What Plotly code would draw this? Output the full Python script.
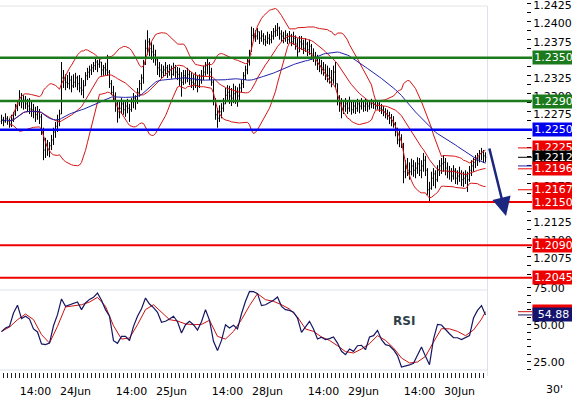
import numpy as np
import pandas as pd
import plotly.graph_objects as go

W, H = 572, 397

# ---------------- data (30-minute EUR bars) ----------------
HIGH = [
1.2271,1.2268,1.2273,1.2269,1.2266,1.2271,1.2275,1.2286,1.2291,1.2305,
1.2301,1.2298,1.2297,1.2293,1.2294,1.2290,1.2286,1.2282,1.2283,1.2279,
1.2272,1.2253,1.2239,1.2236,1.2233,1.2243,1.2253,1.2261,1.2271,1.2278,
1.2344,1.2333,1.2327,1.2326,1.2330,1.2325,1.2327,1.2329,1.2325,1.2326,
1.2322,1.2319,1.2330,1.2336,1.2339,1.2341,1.2344,1.2350,1.2347,1.2351,
1.2344,1.2340,1.2343,1.2354,1.2333,1.2319,1.2311,1.2302,1.2291,1.2289,
1.2294,1.2291,1.2289,1.2293,1.2286,1.2294,1.2301,1.2298,1.2308,1.2319,
1.2327,1.2347,1.2375,1.2388,1.2377,1.2372,1.2368,1.2361,1.2351,1.2344,
1.2341,1.2339,1.2344,1.2340,1.2341,1.2339,1.2343,1.2340,1.2337,1.2336,
1.2330,1.2333,1.2333,1.2336,1.2333,1.2330,1.2327,1.2330,1.2325,1.2327,
1.2333,1.2339,1.2344,1.2350,1.2344,1.2336,1.2319,1.2294,1.2280,1.2284,
1.2287,1.2294,1.2308,1.2312,1.2311,1.2308,1.2314,1.2311,1.2309,1.2314,
1.2319,1.2330,1.2339,1.2350,1.2361,1.2393,1.2391,1.2388,1.2391,1.2386,
1.2388,1.2384,1.2381,1.2386,1.2383,1.2387,1.2391,1.2395,1.2398,1.2393,
1.2388,1.2386,1.2388,1.2384,1.2387,1.2383,1.2386,1.2381,1.2377,1.2380,
1.2380,1.2375,1.2377,1.2372,1.2375,1.2369,1.2363,1.2358,1.2354,1.2350,
1.2347,1.2344,1.2341,1.2339,1.2336,1.2333,1.2339,1.2344,1.2314,1.2298,
1.2294,1.2291,1.2294,1.2291,1.2296,1.2290,1.2291,1.2289,1.2293,1.2290,
1.2294,1.2291,1.2293,1.2290,1.2291,1.2293,1.2291,1.2290,1.2291,1.2289,
1.2286,1.2283,1.2280,1.2278,1.2275,1.2272,1.2269,1.2261,1.2253,1.2250,
1.2244,1.2232,1.2208,1.2211,1.2205,1.2210,1.2208,1.2205,1.2212,1.2211,
1.2208,1.2218,1.2214,1.2197,1.2178,1.2192,1.2197,1.2194,1.2201,1.2208,
1.2211,1.2215,1.2211,1.2205,1.2200,1.2197,1.2201,1.2197,1.2194,1.2199,
1.2194,1.2192,1.2194,1.2192,1.2200,1.2208,1.2211,1.2215,1.2218,1.2222,
1.2225,1.2222,1.2219]

LOW = [
1.2258,1.2255,1.2260,1.2257,1.2253,1.2254,1.2261,1.2269,1.2276,1.2283,
1.2280,1.2278,1.2279,1.2275,1.2272,1.2268,1.2266,1.2261,1.2264,1.2258,
1.2243,1.2208,1.2211,1.2214,1.2212,1.2222,1.2229,1.2239,1.2247,1.2255,
1.2272,1.2308,1.2305,1.2308,1.2306,1.2302,1.2308,1.2309,1.2305,1.2302,
1.2298,1.2294,1.2311,1.2319,1.2322,1.2326,1.2330,1.2333,1.2330,1.2336,
1.2325,1.2325,1.2326,1.2325,1.2308,1.2298,1.2291,1.2275,1.2260,1.2266,
1.2272,1.2271,1.2268,1.2273,1.2261,1.2275,1.2280,1.2278,1.2286,1.2296,
1.2305,1.2314,1.2340,1.2354,1.2352,1.2347,1.2343,1.2339,1.2326,1.2323,
1.2322,1.2323,1.2325,1.2322,1.2325,1.2321,1.2325,1.2322,1.2319,1.2311,
1.2296,1.2312,1.2314,1.2316,1.2312,1.2308,1.2305,1.2308,1.2302,1.2308,
1.2314,1.2319,1.2325,1.2327,1.2319,1.2311,1.2284,1.2264,1.2253,1.2261,
1.2266,1.2275,1.2286,1.2289,1.2286,1.2283,1.2287,1.2286,1.2282,1.2289,
1.2302,1.2308,1.2319,1.2327,1.2339,1.2358,1.2375,1.2372,1.2375,1.2369,
1.2372,1.2368,1.2366,1.2369,1.2368,1.2370,1.2375,1.2379,1.2380,1.2375,
1.2372,1.2370,1.2372,1.2369,1.2370,1.2366,1.2368,1.2361,1.2351,1.2358,
1.2361,1.2355,1.2358,1.2352,1.2354,1.2347,1.2344,1.2339,1.2333,1.2330,
1.2327,1.2325,1.2319,1.2316,1.2314,1.2309,1.2314,1.2308,1.2284,1.2275,
1.2266,1.2272,1.2275,1.2272,1.2275,1.2271,1.2273,1.2272,1.2275,1.2273,
1.2278,1.2275,1.2276,1.2275,1.2278,1.2280,1.2279,1.2278,1.2278,1.2275,
1.2272,1.2269,1.2266,1.2264,1.2258,1.2255,1.2253,1.2241,1.2230,1.2226,
1.2225,1.2176,1.2183,1.2186,1.2181,1.2187,1.2185,1.2183,1.2189,1.2186,
1.2183,1.2192,1.2186,1.2160,1.2150,1.2167,1.2172,1.2169,1.2178,1.2186,
1.2189,1.2192,1.2187,1.2183,1.2181,1.2178,1.2181,1.2175,1.2174,1.2178,
1.2172,1.2171,1.2175,1.2164,1.2178,1.2186,1.2192,1.2197,1.2200,1.2205,
1.2208,1.2204,1.2205]

CLOSE = [
1.2264,1.2261,1.2266,1.2262,1.2258,1.2265,1.2272,1.2280,1.2286,1.2294,
1.2289,1.2291,1.2286,1.2283,1.2279,1.2278,1.2275,1.2271,1.2275,1.2268,
1.2247,1.2222,1.2229,1.2222,1.2228,1.2236,1.2247,1.2255,1.2264,1.2272,
1.2322,1.2319,1.2316,1.2314,1.2319,1.2311,1.2316,1.2322,1.2314,1.2308,
1.2305,1.2311,1.2325,1.2330,1.2333,1.2336,1.2339,1.2344,1.2341,1.2344,
1.2333,1.2336,1.2333,1.2330,1.2314,1.2302,1.2297,1.2283,1.2275,1.2280,
1.2286,1.2278,1.2283,1.2280,1.2278,1.2289,1.2294,1.2291,1.2302,1.2314,
1.2322,1.2341,1.2363,1.2372,1.2363,1.2358,1.2354,1.2347,1.2336,1.2333,
1.2330,1.2333,1.2336,1.2330,1.2333,1.2327,1.2336,1.2330,1.2327,1.2319,
1.2316,1.2325,1.2322,1.2327,1.2319,1.2316,1.2314,1.2319,1.2311,1.2319,
1.2325,1.2330,1.2339,1.2341,1.2330,1.2316,1.2291,1.2271,1.2266,1.2275,
1.2280,1.2286,1.2298,1.2302,1.2297,1.2294,1.2300,1.2302,1.2297,1.2308,
1.2314,1.2325,1.2333,1.2344,1.2355,1.2381,1.2383,1.2380,1.2386,1.2377,
1.2380,1.2375,1.2372,1.2377,1.2375,1.2380,1.2386,1.2388,1.2391,1.2383,
1.2380,1.2377,1.2381,1.2375,1.2380,1.2372,1.2377,1.2369,1.2358,1.2372,
1.2369,1.2363,1.2369,1.2361,1.2366,1.2355,1.2352,1.2347,1.2341,1.2339,
1.2336,1.2333,1.2327,1.2325,1.2322,1.2319,1.2330,1.2314,1.2291,1.2283,
1.2278,1.2283,1.2286,1.2280,1.2289,1.2278,1.2283,1.2280,1.2286,1.2283,
1.2289,1.2283,1.2286,1.2283,1.2286,1.2289,1.2286,1.2283,1.2286,1.2280,
1.2278,1.2275,1.2272,1.2269,1.2266,1.2261,1.2258,1.2247,1.2236,1.2239,
1.2230,1.2192,1.2197,1.2194,1.2192,1.2200,1.2194,1.2197,1.2203,1.2194,
1.2200,1.2208,1.2194,1.2167,1.2169,1.2183,1.2189,1.2181,1.2194,1.2200,
1.2203,1.2205,1.2197,1.2192,1.2192,1.2186,1.2194,1.2183,1.2186,1.2189,
1.2181,1.2183,1.2186,1.2181,1.2194,1.2200,1.2205,1.2208,1.2211,1.2217,
1.2219,1.2214,1.2212]

FIRST_OPEN = 1.2262

BB_PERIOD, BB_K, MA_PERIOD = 20, 2, 50

# RSI read every 2 bars, its signal line every 4 bars (last point = final bar)
RSI_VALUES = [
45.3,47.8,48.9,57.9,63.2,54.1,55.7,53.8,47.1,45.1,
37.0,36.5,37.6,49.3,56.8,67.4,62.4,63.5,64.4,65.3,
60.2,64.7,67.1,68.5,71.4,66.5,60.2,55.7,39.2,37.4,
42.1,42.1,39.2,48.9,55.7,60.8,68.0,64.0,61.5,58.4,
51.6,52.3,53.8,55.7,52.0,44.4,50.0,52.3,50.0,46.4,
52.0,60.2,53.0,38.8,32.5,39.4,50.0,47.8,49.6,47.1,
57.4,65.8,72.5,72.3,71.0,62.9,63.5,65.1,66.5,68.7,
62.4,60.2,59.7,58.4,54.5,44.8,48.9,52.3,47.1,40.3,
41.5,39.9,40.6,41.7,37.6,32.0,29.8,33.6,32.0,35.8,
36.1,33.1,41.7,42.6,46.2,39.9,36.5,35.8,33.1,29.1,
21.4,21.9,22.8,23.9,30.0,34.9,28.6,23.0,40.3,50.2,
49.8,46.6,43.9,41.2,41.2,39.9,41.0,42.6,54.5,59.7,
62.9,56.6]

RSI_SIGNAL = [
45.5,48.4,53.4,57.2,53.4,43.3,37.6,48.9,62.0,62.9,
63.5,65.3,68.5,62.4,49.3,40.3,41.0,50.0,60.2,63.5,
58.4,53.4,52.5,50.5,50.0,50.2,53.0,42.1,40.3,45.5,
53.4,62.9,71.0,66.9,65.8,63.5,60.6,55.2,47.1,45.5,
41.7,39.4,35.8,31.8,30.9,33.6,37.2,42.6,39.4,34.3,
27.5,24.1,24.8,28.6,38.3,47.3,47.2,45.5,42.6,46.4,
53.8,58.8]

# time labels on the bar index axis (bar 17 = 23Jun 14:00, one bar = 30 minutes)
TICK_POS = [17, 37, 65, 85, 113, 133, 161, 181, 209, 229]
TICK_TEXT = ["14:00", "24Jun", "14:00", "25Jun", "14:00", "28Jun",
             "14:00", "29Jun", "14:00", "30Jun"]
RSI_TICKS = [25, 50, 75]

LEVELS = [1.2350, 1.2290, 1.2250, 1.2150, 1.2090, 1.2045]
LEVEL_KIND = ["res", "res", "pivot", "sup", "sup", "sup"]

LAST_UPPER, LAST_CLOSE, LAST_MID, LAST_LOWER, LAST_MA = 1.2225, 1.2212, 1.2196, 1.2167, 1.2200
RSI_LABEL = "54.88"

# ---------------- styles ----------------
GREEN, BLUE, RED = "#1b7a1b", "#0000ee", "#ee0000"
KIND_COLOR = {"res": GREEN, "pivot": BLUE, "sup": RED}
FONT = "DejaVu Sans"
GRID = "#dde2ea"

def px(x):
    return x / W

def py(y):
    return 1 - y / H

n = len(CLOSE)
idx = np.arange(n)
close_s = pd.Series(CLOSE)
open_ = [FIRST_OPEN] + CLOSE[:-1]
mid = close_s.rolling(BB_PERIOD, min_periods=5).mean()
sd = close_s.rolling(BB_PERIOD, min_periods=5).std(ddof=0)
upper = mid + BB_K * sd
lower = mid - BB_K * sd
ma = close_s.rolling(MA_PERIOD, min_periods=1).mean()

rsi_x = list(range(0, n, 2))
sig_x = list(range(0, n - 2, 4)) + [n - 1]

hour_ticks = list(range(1, n, 2))   # one tick mark per hour (every 2 bars)
rsi_tickvals = list(range(20, 76, 5))
rsi_ticktext = [f"{v:.2f}" if v in RSI_TICKS else "" for v in rsi_tickvals]

P_BOT, P_TOP = 1.20378, 1.24258
X_RANGE = [-0.75, 243.0]

fig = go.Figure()
for s in (upper, mid, lower):
    fig.add_trace(go.Scatter(x=idx, y=s, mode="lines", line=dict(color="#d41414", width=1),
                             hoverinfo="skip", xaxis="x", yaxis="y"))
fig.add_trace(go.Scatter(x=idx, y=ma, mode="lines", line=dict(color="#2020a8", width=1),
                         hoverinfo="skip", xaxis="x", yaxis="y"))
fig.add_trace(go.Ohlc(x=idx, open=open_, high=HIGH, low=LOW, close=CLOSE,
                      increasing=dict(line=dict(color="black", width=1)),
                      decreasing=dict(line=dict(color="black", width=1)),
                      tickwidth=0.4, xaxis="x", yaxis="y"))
fig.add_trace(go.Scatter(x=sig_x, y=RSI_SIGNAL, mode="lines", line=dict(color="#cc1111", width=1),
                         xaxis="x2", yaxis="y2"))
fig.add_trace(go.Scatter(x=rsi_x, y=RSI_VALUES, mode="lines", line=dict(color="#151560", width=1.2),
                         xaxis="x2", yaxis="y2"))

shapes = []
# frame lines
shapes.append(dict(type="line", xref="paper", yref="paper", x0=0, x1=px(487.5), y0=py(6), y1=py(6),
                   line=dict(color="#e4e4e4", width=1)))
for yy in (290, 370):
    shapes.append(dict(type="line", xref="paper", yref="paper", x0=0, x1=px(487.5), y0=py(yy), y1=py(yy),
                       line=dict(color=GRID, width=1)))
shapes.append(dict(type="line", xref="paper", yref="paper", x0=px(487.5), x1=px(487.5), y0=py(376), y1=py(6),
                   line=dict(color=GRID, width=1)))
# hourly tick marks under the RSI panel
for t in hour_ticks:
    shapes.append(dict(type="line", xref="x2", yref="paper", x0=t, x1=t, y0=py(373), y1=py(378),
                       line=dict(color="#222222", width=1)))
# support / resistance lines
for lv, kind in zip(LEVELS, LEVEL_KIND):
    shapes.append(dict(type="line", xref="paper", yref="y", x0=0, x1=px(532), y0=lv, y1=lv,
                       line=dict(color=KIND_COLOR[kind], width=2.5 if kind != "sup" else 2)))
# stubs of last values
for val, col in ((LAST_UPPER, RED), (LAST_CLOSE, "black"), (LAST_MA, "#2020a8"),
                 (LAST_MID, RED), (LAST_LOWER, RED)):
    shapes.append(dict(type="line", xref="paper", yref="y", x0=px(518), x1=px(532), y0=val, y1=val,
                       line=dict(color=col, width=1)))
for val, col in ((RSI_SIGNAL[-1], "#cc1111"), (RSI_VALUES[-1], "#151560")):
    shapes.append(dict(type="line", xref="paper", yref="y2", x0=px(518), x1=px(532), y0=val, y1=val,
                       line=dict(color=col, width=1)))

annotations = []

def box(val, text, bg, yref="y"):
    annotations.append(dict(xref="paper", yref=yref, x=px(531.5), y=val, xanchor="left", yanchor="middle",
                            text=text, showarrow=False, bgcolor=bg, width=41, height=13, borderpad=0,
                            align="center", font=dict(family=FONT, size=11, color="white")))

box(LEVELS[0], f"{LEVELS[0]:.4f}", GREEN)
box(LEVELS[1], f"{LEVELS[1]:.4f}", GREEN)
box(LEVELS[2], f"{LEVELS[2]:.4f}", BLUE)
box(LAST_UPPER, f"{LAST_UPPER:.4f}", RED)
box(LAST_CLOSE, f"{LAST_CLOSE:.4f}", "black")
box(LAST_MID, f"{LAST_MID:.4f}", RED)
box(LAST_LOWER, f"{LAST_LOWER:.4f}", RED)
box(LEVELS[3], f"{LEVELS[3]:.4f}", RED)
box(LEVELS[4], f"{LEVELS[4]:.4f}", RED)
box(LEVELS[5], f"{LEVELS[5]:.4f}", RED)
box(RSI_SIGNAL[-1], " ", RED, yref="y2")
box(RSI_VALUES[-1], RSI_LABEL, "#14146e", yref="y2")

annotations.append(dict(xref="paper", yref="paper", x=px(404), y=py(320.5), xanchor="center",
                        yanchor="middle", text="<b>RSI</b>", showarrow=False,
                        font=dict(family=FONT, size=12, color="#2f4048")))
annotations.append(dict(xref="paper", yref="paper", x=px(554), y=py(389), xanchor="center",
                        yanchor="middle", text="30'", showarrow=False,
                        font=dict(family=FONT, size=11, color="black")))
annotations.append(dict(xref="paper", yref="y", x=px(506), y=1.21306, ax=-17, ay=-69, text="",
                        showarrow=True, arrowhead=2, arrowsize=1.5, arrowwidth=2.5,
                        arrowcolor="#1b2680", standoff=0))

tickfont = dict(family=FONT, size=11, color="black")
fig.update_layout(
    template="none",
    width=W, height=H, margin=dict(l=0, r=0, t=0, b=0, autoexpand=False),
    paper_bgcolor="white", plot_bgcolor="white", showlegend=False,
    font=dict(family=FONT, size=11, color="black"),
    xaxis=dict(domain=[0, px(487.5)], range=X_RANGE, visible=False, automargin=False,
               rangeslider=dict(visible=False), anchor="y"),
    yaxis=dict(domain=[py(283), py(3)], range=[P_BOT, P_TOP], side="right", anchor="free",
               position=px(526), showgrid=False, zeroline=False, showline=False, automargin=False,
               ticks="outside", ticklen=4, tickcolor="black", tickformat=".4f",
               tick0=1.2, dtick=0.0025, tickfont=tickfont, ticklabeloverflow="allow",
               ticklabelshift=2,
               minor=dict(ticks="outside", ticklen=4, tickcolor="black", tick0=1.2, dtick=0.00125,
                          showgrid=False)),
    xaxis2=dict(domain=[0, px(487.5)], range=X_RANGE, anchor="free", position=py(373), side="bottom",
                tickmode="array", tickvals=TICK_POS, ticktext=TICK_TEXT, ticks="",
                showgrid=False, zeroline=False, showline=False, tickfont=tickfont, automargin=False,
                ticklabelstandoff=10, ticklabeloverflow="allow"),
    yaxis2=dict(domain=[py(370), py(287.5)], range=[19.39, 75.14], side="right", anchor="free",
                position=px(526), showgrid=False, zeroline=False, showline=False, automargin=False,
                tickmode="array", tickvals=rsi_tickvals, ticktext=rsi_ticktext,
                ticks="outside", ticklen=4, tickcolor="black", tickfont=tickfont,
                ticklabeloverflow="allow"),
    shapes=shapes, annotations=annotations,
)

fig.write_html("out.html", config={"displayModeBar": False},
               post_script="document.body.style.margin='0';document.body.style.overflow='hidden';")
